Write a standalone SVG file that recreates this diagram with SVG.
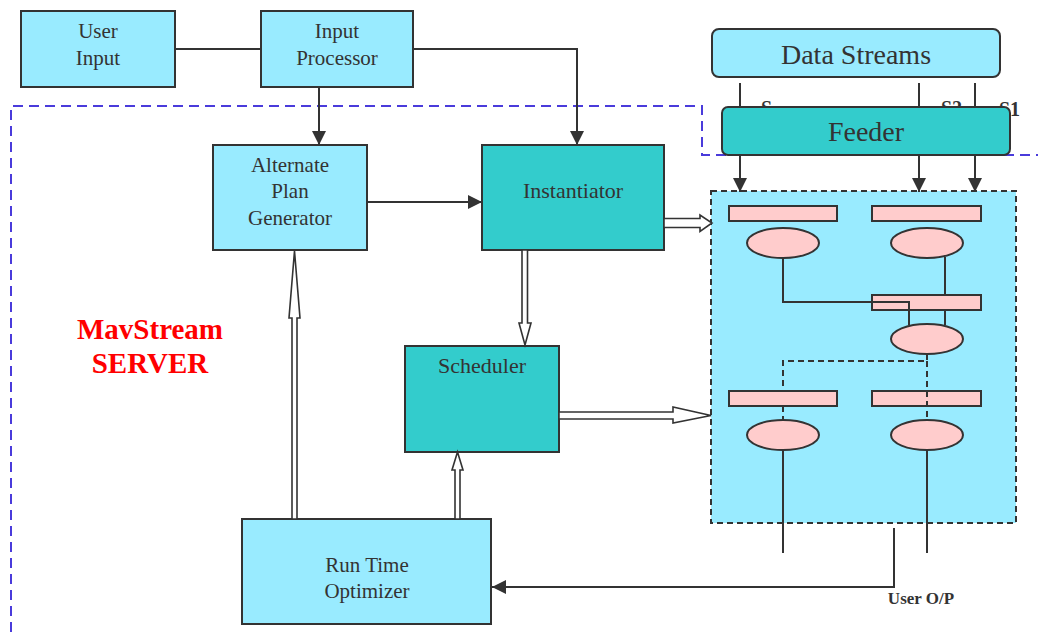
<svg xmlns="http://www.w3.org/2000/svg" width="1038" height="632" viewBox="0 0 1038 632">
  <style>
    .box { stroke: #333; stroke-width: 2; }
    .light { fill: #99EBFF; }
    .teal { fill: #33CCCC; }
    .pink { fill: #FFCCCC; stroke: #333; stroke-width: 2; }
    .lbl { font-family: "Liberation Serif", "Times New Roman", serif; fill: #333; text-anchor: middle; }
    .wire { fill: none; stroke: #333; stroke-width: 2; }
    .dash { fill: none; stroke: #333; stroke-width: 2; stroke-dasharray: 6 4; }
    .hollow { fill: #fff; stroke: #333; stroke-width: 1.6; stroke-linejoin: miter; }
  </style>
  <defs>
    <marker id="tri" markerWidth="14" markerHeight="14" refX="14" refY="7" orient="auto" markerUnits="userSpaceOnUse">
      <path d="M0,0 L14,7 L0,14 Z" fill="#333"/>
    </marker>
  </defs>

  <rect width="1038" height="632" fill="#fff"/>

  <!-- server boundary -->
  <path d="M11,632 V106 H702 V155 H1038" fill="none" stroke="#4A3BDB" stroke-width="2" stroke-dasharray="10 6"/>

  <!-- stream labels, partly hidden behind the feeder -->
  <g id="stream-labels" font-family="Liberation Serif, Times New Roman, serif" font-weight="bold" font-size="20" fill="#333">
    <text x="761" y="115">S</text>
    <text x="941" y="115">S2</text>
    <text x="999" y="116">S1</text>
  </g>

  <g id="data-streams">
    <rect class="box light" x="712" y="29" width="288" height="48" rx="7"/>
    <text class="lbl" x="856" y="64" font-size="28">Data Streams</text>
  </g>

  <!-- stream lines into the feeder -->
  <g id="stream-lines" class="wire">
    <line x1="740" y1="83" x2="740" y2="108"/>
    <line x1="919" y1="83" x2="919" y2="108"/>
    <line x1="975" y1="83" x2="975" y2="108"/>
  </g>

  <g id="feeder">
    <rect class="box teal" x="722" y="107" width="288" height="48" rx="6"/>
    <text class="lbl" x="866" y="141" font-size="28">Feeder</text>
  </g>

  <!-- query plan area -->
  <g id="plan-area">
    <rect x="711" y="191" width="305" height="332" fill="#99EBFF" stroke="#333" stroke-width="2" stroke-dasharray="6 4"/>
    <rect class="pink" x="729" y="206" width="108" height="15"/>
    <rect class="pink" x="872" y="206" width="109" height="15"/>
    <ellipse class="pink" cx="783" cy="243" rx="36" ry="15"/>
    <ellipse class="pink" cx="927" cy="243" rx="36" ry="15"/>
    <line class="wire" x1="945" y1="257" x2="945" y2="295"/>
    <rect class="pink" x="872" y="295" width="109" height="15"/>
    <line class="wire" x1="945" y1="310" x2="945" y2="325"/>
    <path class="wire" d="M783,258 V302 H909 V325"/>
    <ellipse class="pink" cx="927" cy="339" rx="36" ry="15"/>
    <path class="dash" d="M927,354 V361 H783 V391"/>
    <rect class="pink" x="729" y="391" width="108" height="15"/>
    <rect class="pink" x="872" y="391" width="109" height="15"/>
    <line class="dash" x1="783" y1="406" x2="783" y2="421"/>
    <line class="dash" x1="927" y1="361" x2="927" y2="421"/>
    <ellipse class="pink" cx="783" cy="435" rx="36" ry="15"/>
    <ellipse class="pink" cx="927" cy="435" rx="36" ry="15"/>
    <line class="wire" x1="783" y1="450" x2="783" y2="553"/>
    <line class="wire" x1="927" y1="450" x2="927" y2="553"/>
  </g>

  <g id="user-input">
    <rect class="box light" x="21" y="11" width="154" height="76"/>
    <text class="lbl" x="98" y="38" font-size="21">User</text>
    <text class="lbl" x="98" y="65" font-size="21">Input</text>
  </g>

  <g id="input-processor">
    <rect class="box light" x="261" y="11" width="152" height="76"/>
    <text class="lbl" x="337" y="38" font-size="21">Input</text>
    <text class="lbl" x="337" y="65" font-size="21">Processor</text>
  </g>

  <g id="alternate-plan-generator">
    <rect class="box light" x="213" y="145" width="154" height="105"/>
    <text class="lbl" x="290" y="172" font-size="21">Alternate</text>
    <text class="lbl" x="290" y="198" font-size="21">Plan</text>
    <text class="lbl" x="290" y="225" font-size="21">Generator</text>
  </g>

  <g id="instantiator">
    <rect class="box teal" x="482" y="145" width="182" height="105"/>
    <text class="lbl" x="573" y="198" font-size="22">Instantiator</text>
  </g>

  <g id="scheduler">
    <rect class="box teal" x="405" y="346" width="154" height="106"/>
    <text class="lbl" x="482" y="373" font-size="22">Scheduler</text>
  </g>

  <g id="run-time-optimizer">
    <rect class="box light" x="242" y="519" width="249" height="105"/>
    <text class="lbl" x="367" y="572" font-size="21">Run Time</text>
    <text class="lbl" x="367" y="598" font-size="21">Optimizer</text>
  </g>

  <text x="150" y="339" font-family="Liberation Serif, Times New Roman, serif" font-weight="bold" font-size="29" fill="#FF0000" text-anchor="middle">MavStream</text>
  <text x="150" y="373" font-family="Liberation Serif, Times New Roman, serif" font-weight="bold" font-size="29" fill="#FF0000" text-anchor="middle">SERVER</text>

  <text x="921" y="604" font-family="Liberation Serif, Times New Roman, serif" font-weight="bold" font-size="17" fill="#333" text-anchor="middle">User O/P</text>

  <!-- connectors -->
  <g id="connectors">
    <line class="wire" x1="175" y1="49" x2="261" y2="49"/>
    <line class="wire" x1="319" y1="87" x2="319" y2="145" marker-end="url(#tri)"/>
    <path class="wire" d="M413,49 H577 V145" marker-end="url(#tri)"/>
    <line class="wire" x1="367" y1="202" x2="482" y2="202" marker-end="url(#tri)"/>
    <line class="wire" x1="740" y1="155" x2="740" y2="192" marker-end="url(#tri)"/>
    <line class="wire" x1="919" y1="155" x2="919" y2="192" marker-end="url(#tri)"/>
    <line class="wire" x1="975" y1="155" x2="975" y2="192" marker-end="url(#tri)"/>
    <path class="wire" d="M894,528 V587 H492" marker-end="url(#tri)"/>

    <!-- hollow arrows -->
    <polygon class="hollow" points="664,218.5 700,218.5 700,215 712,223 700,231.5 700,227.5 664,227.5"/>
    <polygon class="hollow" points="522,250 522,323 519,323 525,345 531,323 527.5,323 527.5,250"/>
    <polygon class="hollow" points="559,412 673,412 673,407 711,415.5 673,423 673,419 559,419"/>
    <polygon class="hollow" points="455,519 455,470 452,470 457.5,452 463,470 460,470 460,519"/>
    <polygon class="hollow" points="292,519 292,318 289,318 294.5,251 300,318 297,318 297,519"/>
  </g>
</svg>
